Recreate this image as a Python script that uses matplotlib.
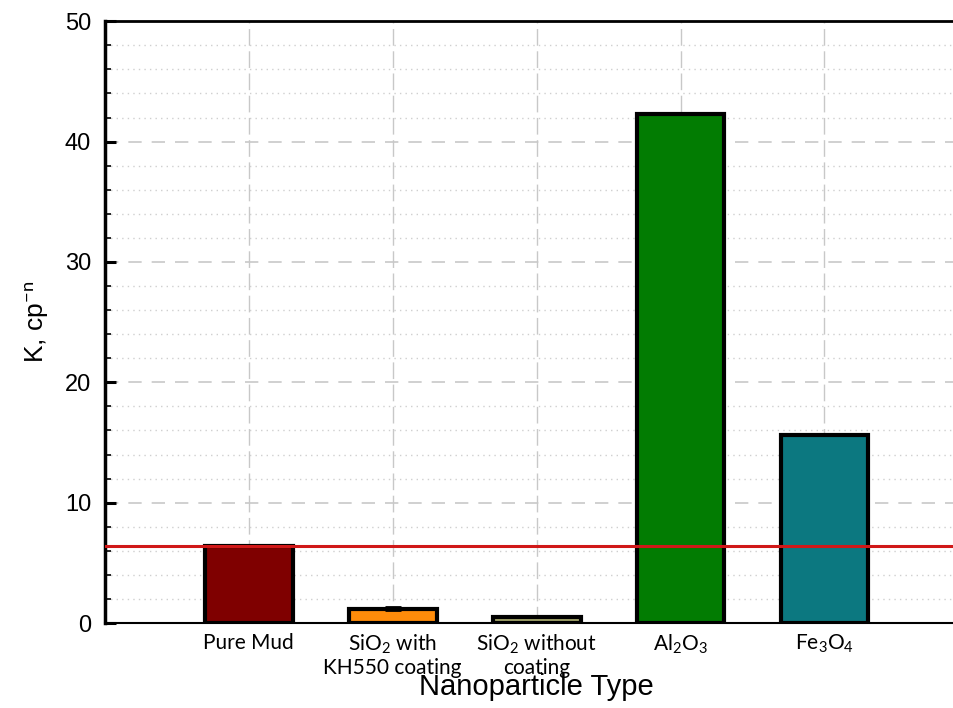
import matplotlib
matplotlib.use("Agg")
import matplotlib.pyplot as plt
from matplotlib.ticker import MultipleLocator

# K values for each drilling fluid
categories = ["Pure Mud", "SiO$_2$ with\nKH550 coating", "SiO$_2$ without\ncoating",
              "Al$_2$O$_3$", "Fe$_3$O$_4$"]
k_values = [6.4, 1.2, 0.5, 42.3, 15.6]
k_errors = [0.0, 0.15, 0.0, 0.0, 0.0]
bar_colors = ["#7f0000", "#ff8c0a", "#a3a46a", "#027c02", "#0c7880"]
pure_mud_level = 6.4

plt.rcParams["mathtext.fontset"] = "custom"
plt.rcParams["mathtext.rm"] = "Lato"
plt.rcParams["mathtext.it"] = "Lato:italic"

fig = plt.figure(figsize=(9.54, 7.08), dpi=100)
ax = fig.add_axes([0.110, 0.120, 0.905, 0.850])

x = list(range(len(categories)))
ax.bar(x, k_values, width=0.61, color=bar_colors, edgecolor="black",
       linewidth=3, zorder=3)
ax.errorbar(x[1], k_values[1], yerr=k_errors[1], fmt="none", ecolor="black",
            elinewidth=1.5, capsize=6, capthick=2, zorder=4)
ax.axhline(pure_mud_level, color="#d01818", linewidth=2.2, zorder=5)

ax.set_xlim(-1, 5)
ax.set_ylim(0, 50)
ax.set_xticks(x)
ax.set_xticklabels(categories, fontfamily="Lato", fontsize=15, linespacing=1.1)
ax.yaxis.set_major_locator(MultipleLocator(10))
ax.yaxis.set_minor_locator(MultipleLocator(2))

ax.grid(True, which="major", axis="y", color="#c8c8c8", linestyle=(0, (8, 6)), linewidth=1.2, zorder=0)
ax.grid(True, which="minor", axis="y", color="#cfcfcf", linestyle=(0, (1, 3)), linewidth=1.0, zorder=0)
ax.grid(True, which="major", axis="x", color="#c8c8c8", linestyle=(0, (12, 4)), linewidth=1.0, zorder=0)

ax.tick_params(axis="y", which="major", direction="in", length=8, width=2.2,
               labelsize=17, pad=10)
ax.tick_params(axis="y", which="minor", direction="in", length=4, width=1.2)
ax.tick_params(axis="x", length=0, pad=7)
for lab in ax.get_yticklabels():
    lab.set_fontfamily("Liberation Sans")

ax.spines["left"].set_linewidth(2.5)
ax.spines["top"].set_linewidth(2)
ax.spines["bottom"].set_linewidth(1.5)
ax.spines["right"].set_visible(False)

ax.set_ylabel("K, cp$^{\\mathrm{-n}}$", fontfamily="Liberation Sans", fontsize=19, labelpad=10)
ax.set_xlabel("Nanoparticle Type", fontfamily="Liberation Sans", fontsize=21, labelpad=-3)

fig.savefig("out.png", dpi=100)
